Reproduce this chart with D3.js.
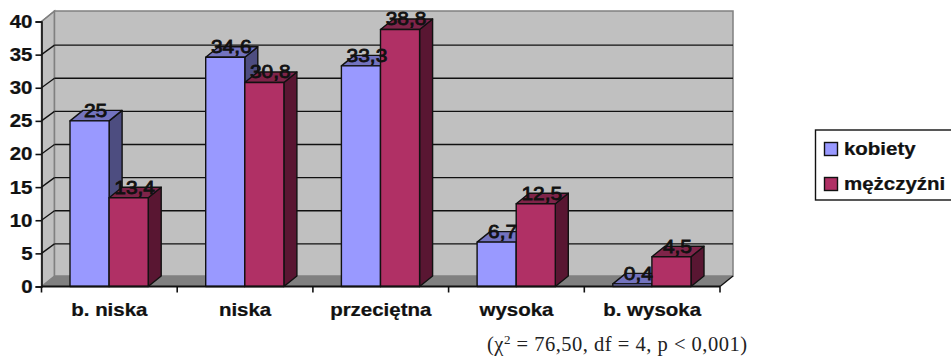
<!DOCTYPE html>
<html><head><meta charset="utf-8">
<script src="https://cdn.jsdelivr.net/npm/d3@7/dist/d3.min.js"></script>
<style>html,body{margin:0;padding:0;background:#fff;overflow:hidden}svg{display:block}text{font-family:"Liberation Sans",Arial,sans-serif;font-weight:bold;fill:#111}</style>
</head><body><svg id="c" width="951" height="357"></svg>
<script>
const categories = ["b. niska","niska","przeciętna","wysoka","b. wysoka"];
const seriesNames = ["kobiety","mężczyźni"];
const kobiety = [25,34.6,33.3,6.7,0.4];
const mezczyzni = [13.4,30.8,38.8,12.5,4.5];
const valueLabels = [["25","34,6","33,3","6,7","0,4"],["13,4","30,8","38,8","12,5","4,5"]];
const yTicks = [0,5,10,15,20,25,30,35,40];
const note = ["(χ","2"," = 76,50, df = 4, p < 0,001)"];
const frontColors = ["#9999ff","#b03065"];
const topColors = ["#7373bf","#7f2449"];
const sideColors = ["#4d4d80","#591632"];

const svg = d3.select("#c");
const dx = 13, dy = -10.5, gridDy = -9.5, stretch = 1.1;
const x = d3.scaleBand().domain(categories).range([41.5,720]);
const inner = d3.scaleBand().domain([0,1]).range([28.5,x.step()-29]);
const y = d3.scaleLinear().domain([0,40]).range([286.5,21.5]);
const poly = p => p.map(a=>a.join(",")).join(" ");
const wide = (sel,px,py) => sel.attr("x",px/stretch).attr("y",py).attr("transform",`scale(${stretch},1)`);
const heavy = sel => sel.style("font-size","18.6px").style("font-family",'"Liberation Sans"').style("font-weight","bold").style("stroke","#111").style("stroke-width",0.25);

// walls
const [x0,x1] = x.range(), y0=y(0), yT=y(40);
svg.append("polygon").attr("points",poly([[x0,y0],[x0,yT],[x0+dx,yT+dy],[x0+dx,y0+dy]])).attr("fill","#c0c0c0").attr("stroke","#808080").attr("stroke-width",1.5);
svg.append("polygon").attr("points",poly([[x0+dx,y0+dy],[x0+dx,yT+dy],[x1+dx,yT+dy],[x1+dx,y0+dy]])).attr("fill","#c0c0c0").attr("stroke","#808080").attr("stroke-width",1.5);
svg.append("polygon").attr("points",poly([[x0,y0],[x0+dx,y0+dy],[x1+dx,y0+dy],[x1,y0]])).attr("fill","#808080");

// gridlines
yTicks.filter(t=>t>0&&t<40).forEach(t=>{
  svg.append("line").attr("x1",x0+dx).attr("x2",x1+dx).attr("y1",y(t)+gridDy).attr("y2",y(t)+gridDy).attr("stroke","#111").attr("stroke-width",1.3);
});
yTicks.filter(t=>t>0).forEach(t=>{
  svg.append("line").attr("x1",x0).attr("x2",x0+dx).attr("y1",y(t)).attr("y2",y(t)+(t==40?dy:gridDy)).attr("stroke",t==40?"#808080":"#111").attr("stroke-width",1.3);
});

// bars
categories.forEach((c,i)=>{
  [kobiety,mezczyzni].forEach((vals,s)=>{
    const l=x(c)+inner(s), w=inner.bandwidth(), r=l+w, t=y(vals[i]), b=y(0);
    const g=svg.append("g").attr("stroke","#111").attr("stroke-width",1.4).attr("stroke-linejoin","round");
    g.append("polygon").attr("points",poly([[r,b],[r,t],[r+dx,t+dy],[r+dx,b+dy]])).attr("fill",sideColors[s]);
    g.append("polygon").attr("points",poly([[l,t],[l+dx,t+dy],[r+dx,t+dy],[r,t]])).attr("fill",topColors[s]);
    g.append("rect").attr("x",l).attr("y",t).attr("width",w).attr("height",b-t).attr("fill",frontColors[s]);
  });
});

// axes
const yAxis = d3.axisLeft(y).tickValues(yTicks).tickSize(6).tickPadding(3);
const gy = svg.append("g").attr("transform",`translate(${x0},0)`).call(yAxis);
heavy(gy.selectAll("text")).attr("x",-9/stretch).attr("transform",`scale(${stretch},1)`);
gy.selectAll("line,path").attr("stroke","#111").attr("stroke-width",1.6);

const xAxis = d3.axisBottom(x).tickSize(0).tickPadding(16.5);
const gx = svg.append("g").attr("transform",`translate(0,${y0})`).call(xAxis);
heavy(gx.selectAll("text")).attr("transform",`scale(${stretch},1)`);
gx.select("path").remove();
svg.append("line").attr("x1",x0).attr("x2",x1).attr("y1",y0).attr("y2",y0).attr("stroke","#111").attr("stroke-width",2);
svg.append("line").attr("x1",x1).attr("x2",x1+dx).attr("y1",y0).attr("y2",y0+dy).attr("stroke","#111").attr("stroke-width",1.3);
d3.range(categories.length+1).forEach(i=>{
  const px=x0+i*x.step();
  svg.append("line").attr("x1",px).attr("x2",px).attr("y1",y0).attr("y2",y0+6).attr("stroke","#111").attr("stroke-width",1.6);
});

// data labels
categories.forEach((c,i)=>{
  [kobiety,mezczyzni].forEach((vals,s)=>{
    wide(svg.append("text"),x(c)+inner(s)+inner.bandwidth()/2+6,y(vals[i])-4)
      .attr("text-anchor","middle").style("font-size","19px").style("font-weight","normal").style("stroke","#111").style("stroke-width",0.8).text(valueLabels[s][i]);
  });
});

// legend
svg.append("rect").attr("x",815.5).attr("y",130).attr("width",150).attr("height",70).attr("fill","#fff").attr("stroke","#111").attr("stroke-width",1.4);
seriesNames.forEach((n,i)=>{
  const ly=[149,184][i];
  svg.append("rect").attr("x",824.5).attr("y",ly-6.5).attr("width",13).attr("height",13).attr("fill",frontColors[i]).attr("stroke","#111").attr("stroke-width",1.4);
  heavy(wide(svg.append("text"),844,ly+6.5)).text(n);
});

// note
const tx = svg.append("text").attr("x",487).attr("y",351).style("font-family",'"Liberation Serif",serif').style("font-weight","normal").style("font-size","20.5px").style("letter-spacing","0.5px").style("fill","#222");
tx.append("tspan").text(note[0]);
tx.append("tspan").attr("dy",-7).style("font-size","13px").text(note[1]);
tx.append("tspan").attr("dy",7).text(note[2]);
</script></body></html>
